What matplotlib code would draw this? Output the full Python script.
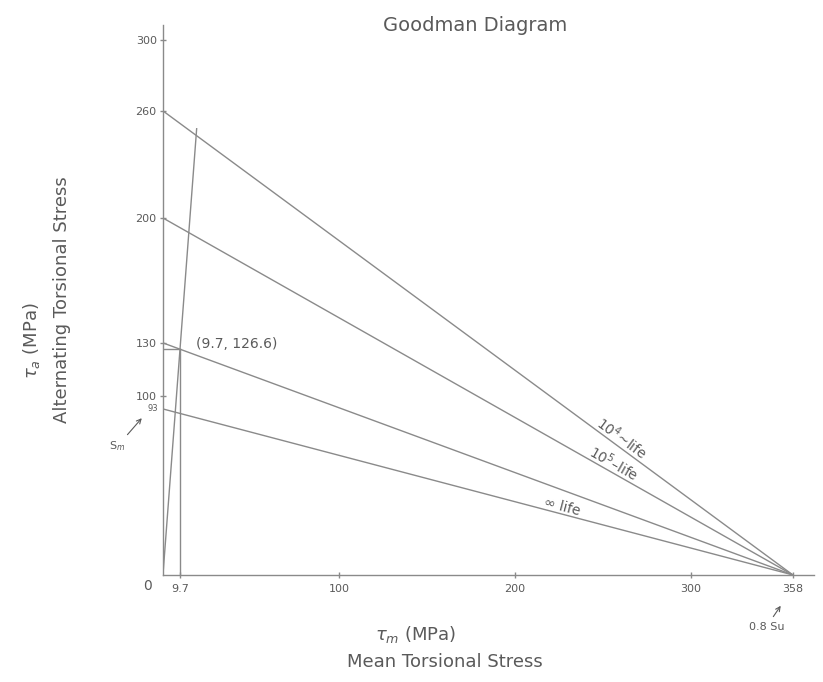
import numpy as np
from matplotlib import pyplot as plt

# Goodman diagram (torsion)
su_085 = 358                      # 0.8 Su on the mean stress axis
intercepts = [260, 200, 130, 93]  # alternating stress intercepts
line_labels = ["10$^4$~life", "10$^5$–life", None, "∞ life"]
label_x = [258, 254, None, 226]   # where each label sits along its line
point = (9.7, 126.6)
load_top = 250                    # top end of the load line

x_ticks = [9.7, 100, 200, 300, 358]
x_tick_labels = ["9.7", "100", "200", "300", "358"]
y_ticks = [100, 130, 200, 260, 300]
y_tick_labels = ["100", "130", "200", "260", "300"]

LINE = "#8a8a8a"
TEXT = "#5a5a5a"


def main():
    plt.rcParams['font.family'] = ['DejaVu Sans']
    fig = plt.figure(figsize=(8.23, 6.82), dpi=100)
    ax = fig.add_axes([0.198, 0.157, 0.791, 0.806])
    ax.set_xlim(0, 370)
    ax.set_ylim(0, 308)

    for s in ["top", "right"]:
        ax.spines[s].set_visible(False)
    for s in ["left", "bottom"]:
        ax.spines[s].set_color(LINE)
        ax.spines[s].set_linewidth(1.0)

    # goodman lines
    for a, lab, lx in zip(intercepts, line_labels, label_x):
        ax.plot([0, su_085], [a, 0], color=LINE, lw=1.0)
        if lab:
            ly = a * (1 - lx / su_085)
            ang = np.degrees(np.arctan2(-a, su_085))
            ax.text(lx, ly, lab, rotation=ang, transform_rotates_text=True,
                    rotation_mode="anchor", ha="center", va="bottom",
                    fontsize=10, color=TEXT)

    # load line through the operating point
    slope = point[1] / point[0]
    ax.plot([0, load_top / slope], [0, load_top], color=LINE, lw=1.0)
    ax.plot([point[0], point[0]], [0, point[1]], color=LINE, lw=1.0)
    ax.plot([0, point[0]], [point[1], point[1]], color=LINE, lw=1.0)
    ax.text(19, point[1] + 3, "(9.7, 126.6)", fontsize=10, color=TEXT,
            va="center")

    ax.set_xticks(x_ticks)
    ax.set_xticklabels(x_tick_labels)
    ax.set_yticks(y_ticks)
    ax.set_yticklabels(y_tick_labels)
    ax.tick_params(colors=LINE, labelcolor=TEXT, labelsize=8,
                   direction="inout", length=5, width=1)
    ax.tick_params(axis="x", pad=4)
    ax.tick_params(axis="y", pad=2)

    ax.text(-9, -6, "0", fontsize=10, color=TEXT, ha="center", va="center")
    ax.text(-3, 93, "93", fontsize=6, color=TEXT, ha="right", va="center")
    ax.annotate("S$_m$", xy=(-11, 89), xytext=(-26, 72), fontsize=8,
                color=TEXT, ha="center", va="center", annotation_clip=False,
                arrowprops=dict(arrowstyle="->", color=TEXT, lw=0.8))
    ax.annotate("0.8 Su", xy=(352, -16), xytext=(343, -29), fontsize=8,
                color=TEXT, ha="center", va="center", annotation_clip=False,
                arrowprops=dict(arrowstyle="->", color=TEXT, lw=0.8))

    fig.text(0.577, 0.963, "Goodman Diagram", fontsize=14, color=TEXT,
             ha="center", va="center")
    fig.text(0.505, 0.07, "$\\tau_m$ (MPa)", fontsize=13, color=TEXT,
             ha="center", va="center")
    fig.text(0.54, 0.03, "Mean Torsional Stress", fontsize=13, color=TEXT,
             ha="center", va="center")
    fig.text(0.038, 0.5, "$\\tau_a$ (MPa)", fontsize=13, color=TEXT,
             ha="center", va="center", rotation=90)
    fig.text(0.075, 0.56, "Alternating Torsional Stress", fontsize=13,
             color=TEXT, ha="center", va="center", rotation=90)

    fig.savefig("out.png", dpi=100)


if __name__ == "__main__":
    main()
